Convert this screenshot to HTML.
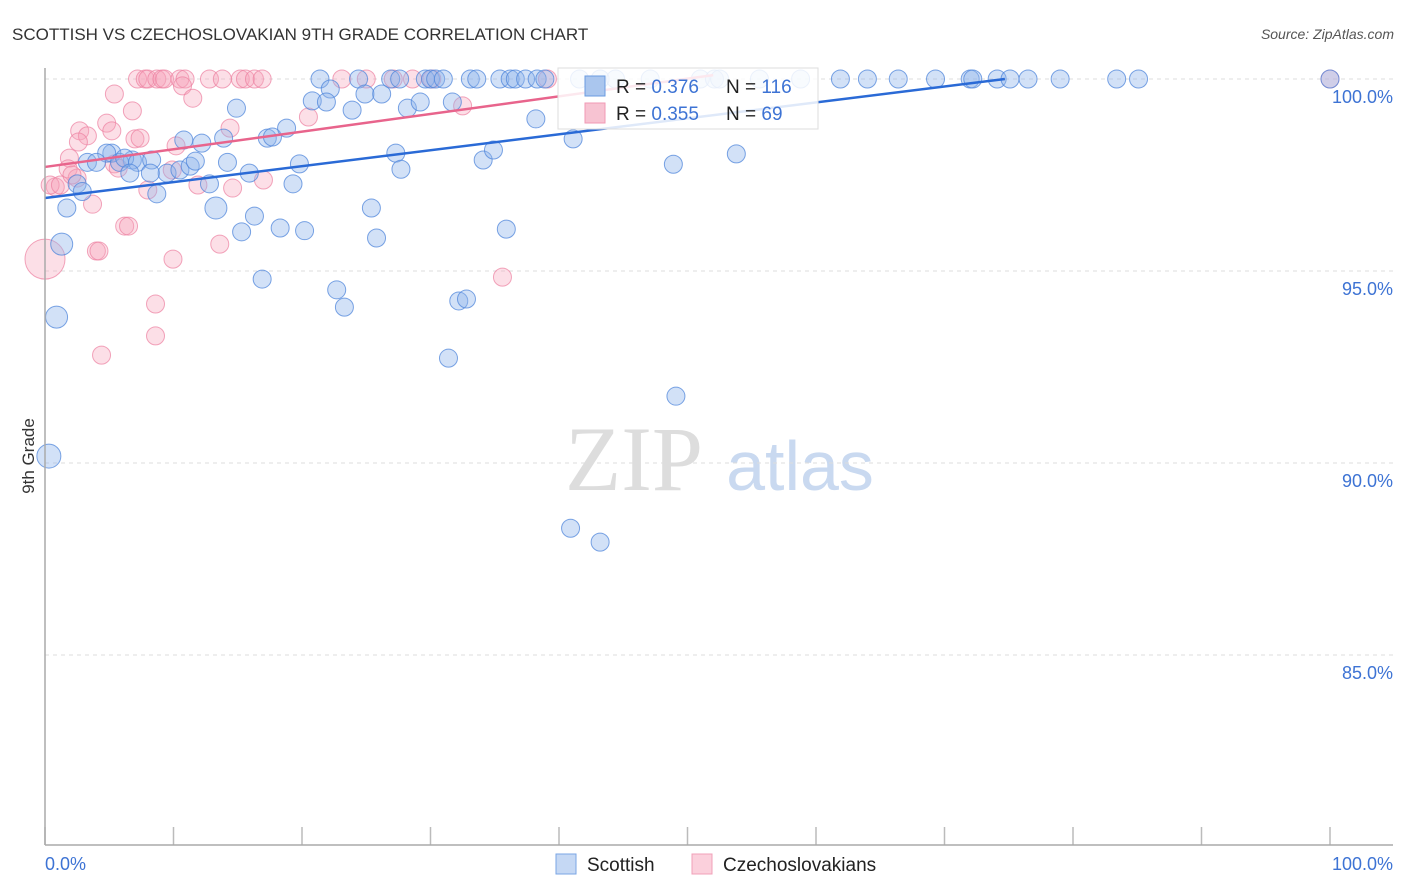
<!DOCTYPE html>
<html><head><meta charset="utf-8"><style>
body{margin:0;background:#fff;font-family:"Liberation Sans",sans-serif}
svg{display:block}
</style></head><body>
<svg id="c" width="1406" height="892">
<text x="12" y="40" font-size="17" fill="#333">SCOTTISH VS CZECHOSLOVAKIAN 9TH GRADE CORRELATION CHART</text>
<text x="1394" y="39" font-size="14" fill="#555" font-style="italic" text-anchor="end">Source: ZipAtlas.com</text>
<text x="34" y="456" font-size="17" fill="#333" transform="rotate(-90 34 456)" text-anchor="middle">9th Grade</text>
<g><text x="634" y="490" font-size="92" fill="#ddd" font-family="Liberation Serif,serif" text-anchor="middle">ZIP</text><text x="800" y="490" font-size="70" fill="#c9d9f0" text-anchor="middle">atlas</text></g>
<g id="grid"></g><g id="pts"></g><g id="lines"></g>
<line x1="45" y1="68" x2="45" y2="845" stroke="#aaa" stroke-width="1.5"/>
<line x1="45" y1="845" x2="1393" y2="845" stroke="#aaa" stroke-width="1.5"/>
<text x="45" y="870" font-size="18" fill="#3d73d4">0.0%</text>
<text x="1393" y="870" font-size="18" fill="#3d73d4" text-anchor="end">100.0%</text>
<g>
<rect x="558" y="68" width="260" height="61" fill="#fff" fill-opacity="0.85" stroke="#ddd"/>
<rect x="585" y="76" width="20" height="20" fill="#aac6ee" stroke="#6a9be0"/>
<rect x="585" y="103" width="20" height="20" fill="#f7c3d2" stroke="#f09ab4"/>
<text x="616" y="93" font-size="19" fill="#222">R = <tspan fill="#3d73d4">0.376</tspan></text>
<text x="726" y="93" font-size="19" fill="#222">N = <tspan fill="#3d73d4">116</tspan></text>
<text x="616" y="120" font-size="19" fill="#222">R = <tspan fill="#3d73d4">0.355</tspan></text>
<text x="726" y="120" font-size="19" fill="#222">N = <tspan fill="#3d73d4"> 69</tspan></text>
</g>
<g>
<rect x="556" y="854" width="20" height="20" fill="#c5d8f4" stroke="#7aa6e4"/>
<text x="587" y="871" font-size="19" fill="#222">Scottish</text>
<rect x="692" y="854" width="20" height="20" fill="#fbd0dc" stroke="#f0a0b8"/>
<text x="723" y="871" font-size="19" fill="#222">Czechoslovakians</text>
</g>
</svg>
<script>
const yTicks=[100,95,90,85];
const yTickLabels=["100.0%","95.0%","90.0%","85.0%"];
const xTicks=[0,10,20,30,40,50,60,70,80,90,100];
const blueX=[21.4,24.4,26.9,27.6,29.6,30,30.4,31,33.1,33.6,35.4,36.2,36.6,37.4,38.3,38.9,41.6,43.2,44.4,47.1,51,52.1,52.5,55.6,58.8,61.9,64,66.4,69.3,72,72.2,74.1,75.1,76.5,79,83.4,85.1,100,14.9,20.8,22.2,21.9,23.9,24.9,26.2,28.2,29.2,31.7,38.2,10.8,12.2,13.9,17.3,17.7,18.8,5.2,6.8,4.8,3.3,4,5.8,6.2,7.2,8.3,9.5,10.5,11.3,11.7,14.2,15.9,12.8,19.3,19.8,6.6,8.2,8.7,2.5,2.9,1.7,1.3,0.9,0.3,13.3,15.3,16.3,18.3,20.2,16.9,22.7,23.3,25.4,25.8,27.3,27.7,34.1,34.9,35.9,32.2,32.8,31.4,41.1,48.9,53.8,49.1,40.9,43.2];
const blueY=[100,100,100,100,100,100,100,100,100,100,100,100,100,100,100,100,100,100,100,100,100,100,100,100,100,100,100,100,100,100,100,100,100,100,100,100,100,100,99.24,99.43,99.74,99.4,99.19,99.61,99.61,99.24,99.4,99.4,98.96,98.41,98.33,98.46,98.46,98.49,98.72,98.07,97.89,98.07,97.83,97.83,97.83,97.94,97.83,97.89,97.55,97.63,97.73,97.86,97.83,97.55,97.27,97.27,97.79,97.55,97.55,97.01,97.27,97.07,96.64,95.7,93.8,90.18,96.64,96.02,96.43,96.12,96.05,94.79,94.51,94.06,96.64,95.86,98.07,97.65,97.89,98.15,96.09,94.22,94.27,92.73,98.44,97.78,98.05,91.74,88.3,87.94];
const blueR=[9,9,9,9,9,9,9,9,9,9,9,9,9,9,9,9,9,9,9,9,9,9,9,9,9,9,9,9,9,9,9,9,9,9,9,9,9,9,9,9,9,9,9,9,9,9,9,9,9,9,9,9,9,9,9,9,9,9,9,9,9,9,9,9,9,9,9,9,9,9,9,9,9,9,9,9,9,9,9,11,11,12,11,9,9,9,9,9,9,9,9,9,9,9,9,9,9,9,9,9,9,9,9,9,9,9,9];
const pinkX=[7.2,7.8,8,8.7,9.1,9.3,10.5,10.9,12.8,13.8,15.2,15.6,16.3,16.9,23.1,25,27.1,28.6,30.1,39.1,100,5.4,10.7,11.5,6.8,4.8,5.2,2.7,3.3,2.6,7,7.4,14.4,20.5,32.5,10.2,1.9,1.8,2.5,0.8,0.4,1.2,5.4,5.7,8,9.9,11.9,14.6,17,3.7,6.2,6.5,4,4.2,9.96,13.6,8.6,8.6,4.4,35.6,0,2.1];
const pinkY=[100,100,100,100,100,100,100,100,100,100,100,100,100,100,100,100,100,100,100,100,100,99.61,99.82,99.5,99.17,98.85,98.65,98.65,98.52,98.36,98.44,98.46,98.72,99.01,99.3,98.26,97.94,97.66,97.42,97.19,97.24,97.24,97.79,97.68,97.11,97.63,97.24,97.16,97.37,96.74,96.17,96.17,95.52,95.52,95.31,95.7,94.14,93.31,92.81,94.84,95.31,97.5];
const pinkR=[9,9,9,9,9,9,9,9,9,9,9,9,9,9,9,9,9,9,9,9,9,9,9,9,9,9,9,9,9,9,9,9,9,9,9,9,9,9,9,9,9,9,9,9,9,9,9,9,9,9,9,9,9,9,9,9,9,9,9,9,20,9];
const blueTrend=[[0,96.9],[74.7,100]];
const pinkTrend=[[0,97.71],[52,100.1]];
const NS="http://www.w3.org/2000/svg";
const X=v=>45+v*12.85, Y=v=>79+(100-v)*38.4;
function mk(t,a,p){const e=document.createElementNS(NS,t);for(const k in a)e.setAttribute(k,a[k]);p.appendChild(e);return e;}
const grid=document.getElementById('grid');
yTicks.forEach((t,i)=>{
 const l=mk('line',{x1:45,x2:1393,y1:Y(t),y2:Y(t),stroke:'#ddd','stroke-dasharray':'4,4'},grid);
 
 
 const tx=mk('text',{x:1393,y:Y(t)+24,'font-size':18,fill:'#3d73d4','text-anchor':'end'},grid);
 tx.textContent=yTickLabels[i];
 
 
});
xTicks.forEach(t=>{
 const l=mk('line',{x1:X(t),x2:X(t),y1:827,y2:845,stroke:'#bbb','stroke-width':1.5},grid);
 
 
});
const pts=document.getElementById('pts');
pinkX.forEach((x,i)=>{
 const c=mk('circle',{cx:X(x),cy:Y(pinkY[i]),r:pinkR[i],fill:'#f5a3bb','fill-opacity':0.35,stroke:'#ec7fa0','stroke-opacity':0.7},pts);
 
 
});
blueX.forEach((x,i)=>{
 const c=mk('circle',{cx:X(x),cy:Y(blueY[i]),r:blueR[i],fill:'#8fb5ea','fill-opacity':0.4,stroke:'#4f86db','stroke-opacity':0.75},pts);
 
 
});
const lines=document.getElementById('lines');
const bl=mk('line',{x1:X(blueTrend[0][0]),y1:Y(blueTrend[0][1]),x2:X(blueTrend[1][0]),y2:Y(blueTrend[1][1]),stroke:'#2a6ad6','stroke-width':2.5},lines);


const pl=mk('line',{x1:X(pinkTrend[0][0]),y1:Y(pinkTrend[0][1]),x2:X(pinkTrend[1][0]),y2:Y(pinkTrend[1][1]),stroke:'#e8648c','stroke-width':2.5},lines);


</script>
</body></html>
